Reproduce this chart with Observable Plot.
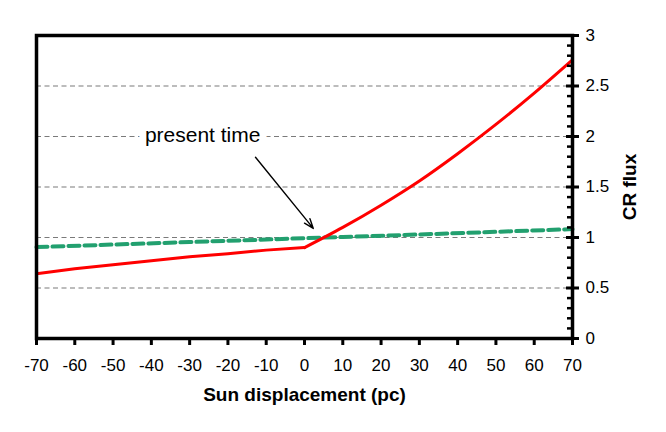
<!DOCTYPE html>
<html>
<head>
<meta charset="utf-8">
<script src="https://cdn.jsdelivr.net/npm/d3@7"></script>
<script src="https://cdn.jsdelivr.net/npm/@observablehq/plot@0.6"></script>
<style>
  html, body { margin: 0; padding: 0; background: #fff; }
</style>
</head>
<body>
<div id="chart"></div>
<script>
// ---- data ----
const xTicks = [-70, -60, -50, -40, -30, -20, -10, 0, 10, 20, 30, 40, 50, 60, 70];
const yTicks = [0, 0.5, 1, 1.5, 2, 2.5, 3];
const yMinorTicks = [0.1, 0.2, 0.3, 0.4, 0.6, 0.7, 0.8, 0.9, 1.1, 1.2, 1.3, 1.4,
                     1.6, 1.7, 1.8, 1.9, 2.1, 2.2, 2.3, 2.4, 2.6, 2.7, 2.8, 2.9];
const gridValues = [0.5, 1, 1.5, 2, 2.5];

// red series (piecewise: left branch and right branch meeting at 0)
const redLeftX = [-70, -60, -50, -40, -30, -20, -10, 0];
const redLeftY = [0.64, 0.69, 0.73, 0.77, 0.81, 0.84, 0.875, 0.90];
const redRightX = [0, 10, 20, 30, 40, 50, 60, 70];
const redRightY = [0.90, 1.10, 1.32, 1.56, 1.83, 2.12, 2.43, 2.76];

// green dashed series
const greenX = [-70, -50, -30, -10, 0, 10, 30, 50, 70];
const greenY = [0.905, 0.93, 0.955, 0.98, 0.993, 1.005, 1.03, 1.056, 1.083];

const xTitle = "Sun displacement (pc)";
const yTitle = "CR flux";
const annotation = [{label: "present time", x: -26.6, y: 2.01}];
const arrowData = [{x1: -12.8, y1: 1.795, x2: 2.3, y2: 1.09}];

// ---- build tables ----
const redLeft = redLeftX.map((x, i) => ({x, y: redLeftY[i]}));
const redRight = redRightX.map((x, i) => ({x, y: redRightY[i]}));
const green = greenX.map((x, i) => ({x, y: greenY[i]}));

const chart = Plot.plot({
  width: 666,
  height: 432,
  marginLeft: 36,
  marginRight: 94,
  marginTop: 35,
  marginBottom: 94,
  style: {fontFamily: "'Liberation Sans', Arial, Helvetica, sans-serif", background: "white", color: "black"},
  x: {domain: [-70, 70]},
  y: {domain: [0, 3]},
  marks: [
    Plot.ruleY(gridValues, {stroke: "#7a7a7a", strokeWidth: 1.2, strokeDasharray: "5,3.5"}),
    Plot.text(annotation, {x: "x", y: "y", text: "label", fontSize: 21, fill: "black",
      stroke: "white", strokeWidth: 14, paintOrder: "stroke", textAnchor: "middle", lineAnchor: "middle"}),
    Plot.arrow(arrowData, {x1: "x1", y1: "y1", x2: "x2", y2: "y2", stroke: "black",
      strokeWidth: 1.4, headLength: 11, headAngle: 40}),
    Plot.line(green, {x: "x", y: "y", stroke: "#22a06f", strokeWidth: 4, strokeDasharray: "11,5"}),
    Plot.line(redLeft, {x: "x", y: "y", stroke: "#ff0000", strokeWidth: 3}),
    Plot.line(redRight, {x: "x", y: "y", stroke: "#ff0000", strokeWidth: 3, curve: "monotone-x"}),
    Plot.frame({stroke: "black", strokeWidth: 3.5}),
    Plot.axisX(xTicks, {anchor: "bottom", tickSize: 7, strokeWidth: 3, tickPadding: 13,
      fontSize: 17, label: null, tickFormat: d => String(d)}),
    Plot.tickY(yMinorTicks, {y: d => d, insetLeft: 531, strokeWidth: 2.5, stroke: "black"}),
    Plot.tickY(yTicks, {y: d => d, insetLeft: 530, insetRight: -7, strokeWidth: 3, stroke: "black"}),
    Plot.axisY(yTicks, {anchor: "right", tickSize: 0, tickPadding: 13, fontSize: 17,
      label: null, tickFormat: d => String(d)}),
    Plot.text([xTitle], {frameAnchor: "bottom", dy: 56, fontSize: 19, fontWeight: "bold",
      textAnchor: "middle", lineAnchor: "middle", fill: "black"}),
    Plot.text([yTitle], {frameAnchor: "right", dx: 57, rotate: -90, fontSize: 19, fontWeight: "bold",
      textAnchor: "middle", lineAnchor: "middle", fill: "black"})
  ]
});
document.getElementById("chart").appendChild(chart);
</script>
</body>
</html>
